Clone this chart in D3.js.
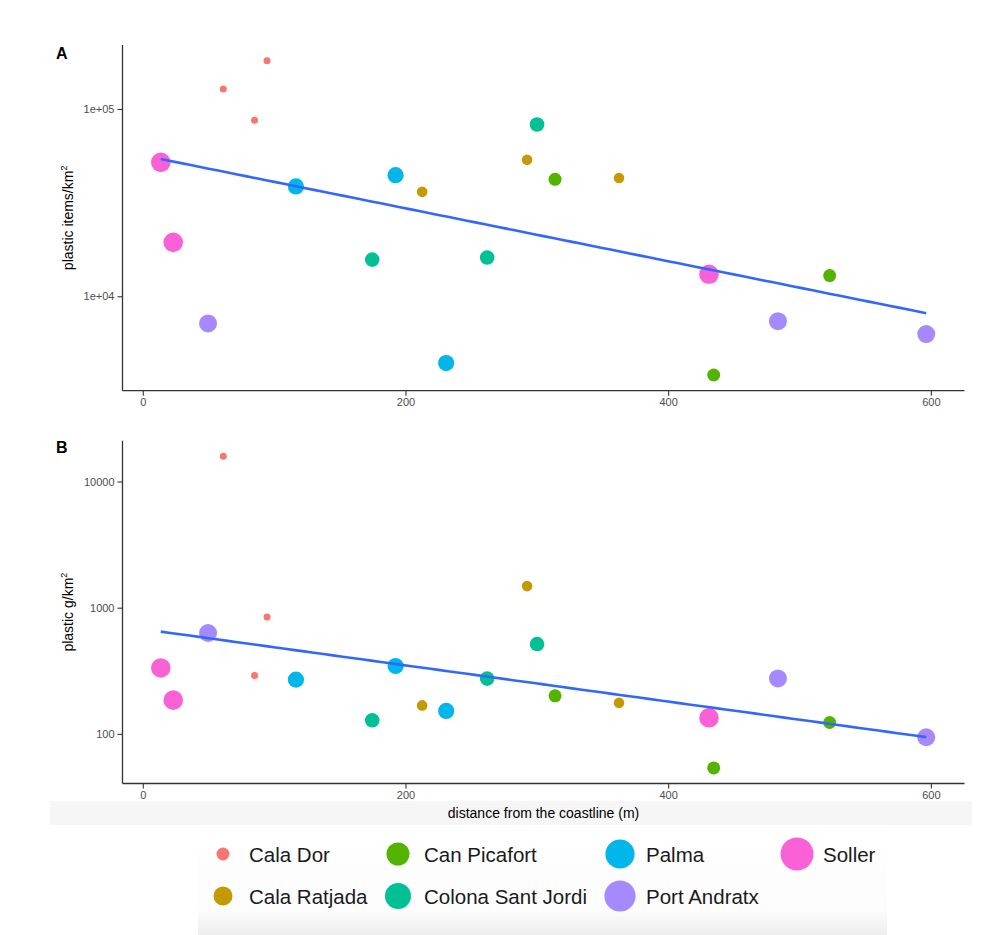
<!DOCTYPE html>
<html>
<head>
<meta charset="utf-8">
<script src="https://cdn.jsdelivr.net/npm/d3@7"></script>
<style>
  html, body { margin: 0; padding: 0; background: #ffffff; }
  svg { display: block; font-family: "Liberation Sans", Arial, Helvetica, sans-serif; }
</style>
</head>
<body>
<svg id="chart" width="999" height="935"></svg>
<script>
// ---------- DATA ----------
const sites = ["Cala Dor", "Cala Ratjada", "Can Picafort", "Colona Sant Jordi", "Palma", "Port Andratx", "Soller"];
const siteColors = ["#F8766D", "#C49A00", "#53B400", "#00C094", "#00B6EB", "#A58AFF", "#FB61D7"];

const obsSite = ["Cala Dor", "Cala Dor", "Cala Dor",
  "Cala Ratjada", "Cala Ratjada", "Cala Ratjada",
  "Can Picafort", "Can Picafort", "Can Picafort",
  "Colona Sant Jordi", "Colona Sant Jordi", "Colona Sant Jordi",
  "Palma", "Palma", "Palma",
  "Port Andratx", "Port Andratx", "Port Andratx",
  "Soller", "Soller", "Soller"];
const distanceM = [61.3, 85.1, 94.6,
  212.7, 292.6, 362.6,
  313.9, 434.7, 523.0,
  174.7, 262.2, 300.2,
  116.6, 192.5, 231.0,
  49.7, 483.6, 596.5,
  13.7, 23.2, 431.1];
const itemsPerKm2 = [128000, 87000, 181000,
  36100, 53600, 42800,
  42100, 3800, 12900,
  15700, 16100, 82600,
  38600, 44300, 4400,
  7160, 7360, 6280,
  51900, 19400, 13100];
const gramsPerKm2 = [15850, 290, 843,
  168, 1483, 176,
  200, 53.7, 123,
  128, 274, 515,
  269, 345, 152,
  630, 275, 94,
  333, 185, 134];

const xTicks = [0, 200, 400, 600];
const yTicksA = [1e4, 1e5];
const yTickLabelsA = ["1e+04", "1e+05"];
const yTicksB = [100, 1000, 10000];
const yTickLabelsB = ["100", "1000", "10000"];

// ---------- LAYOUT ----------
const svg = d3.select("#chart");
const plotLeft = 122.5, plotRight = 964.5;
const panels = [
  { key: "A", values: itemsPerKm2, ticks: yTicksA, labels: yTickLabelsA,
    top: 45, bottom: 390.7, title: "plastic items/km", label: "A", labelY: 58.5 },
  { key: "B", values: gramsPerKm2, ticks: yTicksB, labels: yTickLabelsB,
    top: 440.7, bottom: 783.5, title: "plastic g/km", label: "B", labelY: 453 }
];

const sizeScale = d3.scaleOrdinal().domain(sites).range([3.5, 5.3, 6.5, 7.3, 8.1, 9.0, 9.8]);
const legendSize = d3.scaleOrdinal().domain(sites).range([6.5, 9.5, 11.5, 13, 14.6, 15.6, 16.5]);
const color = d3.scaleOrdinal().domain(sites).range(siteColors);

// x scale with ggplot-like 5% expansion
const xExt = d3.extent(distanceM);
const xPad = (xExt[1] - xExt[0]) * 0.05;
const x = d3.scaleLinear().domain([xExt[0] - xPad, xExt[1] + xPad]).range([plotLeft, plotRight]);

// background bands
const defs = svg.append("defs");
const grad = defs.append("linearGradient").attr("id", "legGrad").attr("x1", 0).attr("x2", 0).attr("y1", 0).attr("y2", 1);
grad.append("stop").attr("offset", "0%").attr("stop-color", "#ffffff");
grad.append("stop").attr("offset", "78%").attr("stop-color", "#fcfcfc");
grad.append("stop").attr("offset", "100%").attr("stop-color", "#eeeeee");

svg.append("rect").attr("x", 50).attr("y", 801).attr("width", 922).attr("height", 24).attr("fill", "#f6f6f6");
svg.append("rect").attr("x", 198).attr("y", 825).attr("width", 689).attr("height", 110).attr("fill", "url(#legGrad)");

const idx = d3.range(distanceM.length);

panels.forEach(p => {
  const logs = p.values.map(v => Math.log10(v));
  const lo = d3.min(logs), hi = d3.max(logs);
  const pad = (hi - lo) * 0.05;
  const y = d3.scaleLog().domain([Math.pow(10, lo - pad), Math.pow(10, hi + pad)]).range([p.bottom, p.top]);

  const g = svg.append("g");

  // points
  g.selectAll("circle.pt").data(idx).join("circle")
    .attr("class", "pt")
    .attr("cx", i => x(distanceM[i]))
    .attr("cy", i => y(p.values[i]))
    .attr("r", i => sizeScale(obsSite[i]))
    .attr("fill", i => color(obsSite[i]));

  // linear fit on log10 scale (like geom_smooth(method = "lm"))
  const mx = d3.mean(distanceM), my = d3.mean(logs);
  let sxy = 0, sxx = 0;
  distanceM.forEach((d, i) => { sxy += (d - mx) * (logs[i] - my); sxx += (d - mx) * (d - mx); });
  const slope = sxy / sxx, icpt = my - slope * mx;
  const fitX = d3.range(0, 81).map(k => xExt[0] + (xExt[1] - xExt[0]) * k / 80);
  g.append("path")
    .datum(fitX)
    .attr("fill", "none")
    .attr("stroke", "#3366FF")
    .attr("stroke-width", 2.6)
    .attr("d", d3.line().x(d => x(d)).y(d => y(Math.pow(10, icpt + slope * d))));

  // axes
  const yAxis = d3.axisLeft(y).tickValues(p.ticks).tickFormat((d, i) => p.labels[i]).tickSize(5).tickPadding(3).tickSizeOuter(0);
  const ya = svg.append("g").attr("transform", `translate(${plotLeft},0)`).call(yAxis);
  const xAxis = d3.axisBottom(x).tickValues(xTicks).tickFormat(d3.format("d")).tickSize(5).tickPadding(3).tickSizeOuter(0);
  const xa = svg.append("g").attr("transform", `translate(0,${p.bottom})`).call(xAxis);
  [ya, xa].forEach(a => {
    a.select(".domain").attr("stroke", "#333333").attr("stroke-width", 1.3);
    a.selectAll(".tick line").attr("stroke", "#333333").attr("stroke-width", 1.1);
    a.selectAll(".tick text").attr("fill", "#4D4D4D").attr("font-size", 11)
      .attr("font-family", "'Liberation Sans', Arial, sans-serif");
  });
  // extend y domain line to the x-axis line
  ya.select(".domain").attr("d", `M0,${p.top}V${p.bottom}`);
  xa.select(".domain").attr("d", `M${plotLeft},0H${plotRight}`);

  // y title
  const cy = (p.top + p.bottom) / 2;
  const t = svg.append("text")
    .attr("transform", `translate(73,${cy}) rotate(-90)`)
    .attr("text-anchor", "middle")
    .attr("font-size", 14)
    .attr("fill", "#000");
  t.append("tspan").text(p.title);
  t.append("tspan").attr("dy", -6).attr("font-size", 9).text("2");

  // panel label
  svg.append("text").attr("x", 56).attr("y", p.labelY)
    .attr("font-size", 16).attr("font-weight", "bold").attr("fill", "#000").text(p.label);
});

// x title
svg.append("text").attr("x", (plotLeft + plotRight) / 2).attr("y", 818)
  .attr("text-anchor", "middle").attr("font-size", 14).attr("fill", "#000")
  .text("distance from the coastline (m)");

// ---------- LEGEND ----------
const colX = [223, 398, 620, 797];
const rowY = [854, 896];
const legend = svg.append("g");
sites.forEach((s, i) => {
  const col = Math.floor(i / 2), row = i % 2;
  const gx = colX[col], gy = rowY[row];
  legend.append("circle").attr("cx", gx).attr("cy", gy).attr("r", legendSize(s)).attr("fill", color(s));
  legend.append("text").attr("x", gx + 26).attr("y", gy + 7.5)
    .attr("font-size", 20.5).attr("fill", "#1a1a1a").text(s);
});
</script>
</body>
</html>
